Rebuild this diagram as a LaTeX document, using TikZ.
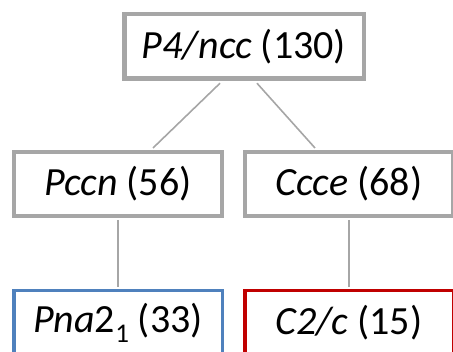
\documentclass[tikz,border=0pt]{standalone}
\usepackage{fontspec}
\setmainfont{Carlito}
\begin{document}
\begin{tikzpicture}[x=1pt,y=1pt,
  box/.style={draw=boxgray,fill=white,inner sep=0pt,font=\fontsize{40}{48}\selectfont},
  conn/.style={draw=boxgray,line width=1.6pt}]
\definecolor{boxgray}{HTML}{A6A6A6}
\definecolor{boxblue}{HTML}{4F81BD}
\definecolor{boxred}{HTML}{C00000}
\useasboundingbox (0,0) rectangle (453,352);
\node[box,line width=4.5pt,minimum width=239.5pt,minimum height=64.5pt] (top) at (244,305.5) {\textit{P4/ncc} (130)};
\node[box,line width=4pt,minimum width=208pt,minimum height=64pt] (pccn) at (118,168) {\textit{Pccn} (56)};
\node[box,line width=4pt,minimum width=208pt,minimum height=64pt] (ccce) at (349,168) {\textit{Ccce} (68)};
\node[box,draw=boxblue,line width=3.5pt,minimum width=208.5pt,minimum height=64.5pt] (pna) at (118,29) {\textit{Pna}2\raisebox{-0.25em}{\fontsize{27}{30}\selectfont 1} (33)};
\node[box,draw=boxred,line width=3.5pt,minimum width=208.5pt,minimum height=64.5pt] (c2c) at (349,29) {\textit{C2/c} (15)};
\draw[conn] ([xshift=-24pt,yshift=-2.25pt]top.south) -- ([xshift=35pt,yshift=2pt]pccn.north);
\draw[conn] ([xshift=13pt,yshift=-2.25pt]top.south) -- ([xshift=-34pt,yshift=2pt]ccce.north);
\draw[conn] ([yshift=-2pt]pccn.south) -- ([yshift=1.75pt]pna.north);
\draw[conn] ([yshift=-2pt]ccce.south) -- ([yshift=1.75pt]c2c.north);
\end{tikzpicture}
\end{document}
